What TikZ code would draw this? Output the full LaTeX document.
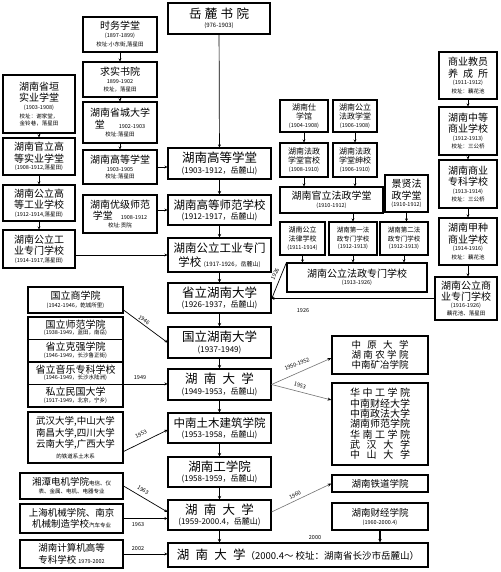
\documentclass[tikz,border=0pt]{standalone}
\usepackage{fontspec}
\setmainfont{Noto Sans CJK SC}
\usetikzlibrary{arrows.meta}
\newcommand\fsA{\fontsize{12.5}{13}\selectfont}
\newcommand\fsAb{\fontsize{11.5}{12.5}\selectfont}
\newcommand\fsB{\fontsize{10}{10.5}\selectfont}
\newcommand\fsBb{\fontsize{9.5}{10}\selectfont}
\newcommand\fsC{\fontsize{8}{9}\selectfont}
\newcommand\fsCc{\fontsize{7}{8}\selectfont}
\newcommand\fsCd{\fontsize{6.5}{7.5}\selectfont}
\newcommand\fsD{\fontsize{6}{7}\selectfont}
\newcommand\fsE{\fontsize{5.5}{6.5}\selectfont}
\newcommand\spread[2]{\makebox[#1][s]{#2}}
\tikzset{
  bx/.style 2 args={draw, line width=1.1pt, fill=white, align=center, inner sep=1pt,
    font=\fontsize{5.5}{5.5}\selectfont, minimum width=#1, minimum height=#2},
  mainarr/.style={line width=1.3pt, -{Stealth[length=3.5pt,width=3.5pt]}},
  thinarr/.style={line width=0.7pt, -{Stealth[length=3pt,width=3pt]}},
  greyarr/.style={line width=0.6pt, draw=black!55, -{Stealth[length=4pt,width=3pt,black]}},
  lbl/.style={font=\fsE, inner sep=0.5pt}
}
\begin{document}
\begin{tikzpicture}[x=1pt,y=-1pt]
\fill[white] (0,0) rectangle (500,572);
\useasboundingbox (0,0) rectangle (500,572);

% ---------- centre column ----------
\node[bx={102pt}{31pt}] (ylsy) at (219,18.5) {\fsA\spread{4.8em}{岳\hfill 麓\hfill 书\hfill 院}\\[1.5pt]\fsD(976-1903)};
\node[bx={103pt}{31pt}] (gdxt) at (219.5,163.5) {\fsA 湖南高等学堂\\[1.5pt]\fsC(1903-1912，岳麓山)};
\node[bx={103pt}{30pt}] (gdsf) at (219.5,210) {\fsAb 湖南高等师范学校\\[1.5pt]\fsC(1912-1917，岳麓山)};
\node[bx={103pt}{34pt}] (gyzm) at (219.5,255) {\fsAb 湖南公立工业专门\\[2pt]\fsAb 学校 {\fsD(1917-1926，岳麓山)}};
\node[bx={103pt}{30pt}] (slhd) at (219.5,298) {\fsA 省立湖南大学\\[1.5pt]\fsC(1926-1937，岳麓山)};
\node[bx={103pt}{31pt}] (glhd) at (219.5,342.5) {\fsA 国立湖南大学\\[1.5pt]\fsC(1937-1949)};
\node[bx={103pt}{31pt}] (hd49) at (219.5,384.5) {\fsA\spread{5.5em}{湖\hfill 南\hfill 大\hfill 学}\\[1.5pt]\fsC(1949-1953，岳麓山)};
\node[bx={103pt}{30pt}] (zntm) at (219.5,428) {\fsAb 中南土木建筑学院\\[1.5pt]\fsC(1953-1958，岳麓山)};
\node[bx={103pt}{30pt}] (hngxy) at (219.5,472) {\fsA 湖南工学院\\[1.5pt]\fsC(1958-1959，岳麓山)};
\node[bx={103pt}{30pt}] (hd59) at (219.5,515) {\fsA\spread{5.5em}{湖\hfill 南\hfill 大\hfill 学}\\[1.5pt]\fsC(1959-2000.4，岳麓山)};
\node[bx={260pt}{24pt}] (final) at (298,555) {\fsA\spread{5.5em}{湖\hfill 南\hfill 大\hfill 学}{\fsBb（2000.4～ 校址：湖南省长沙市岳麓山）}};

% ---------- left column 2 ----------
\node[bx={74pt}{35pt}] (swxt) at (120,34.5) {\fsB 时务学堂\\[2.5pt]\fsE(1897-1899)\\[2.5pt]\fsE 校址:小东街,落星田};
\node[bx={74pt}{35pt}] (qssy) at (120,79.5) {\fsB 求实书院\\[2.5pt]\fsE 1899-1902\\[2.5pt]\fsE 校址，落星田};
\node[bx={74pt}{41pt}] (scdxt) at (120,122.5) {\fsB 湖南省城大学\\[1pt]\fsB 堂\hspace{14pt}{\fsE 1902-1903}\\[2.5pt]\fsE 校址:落星田};
\node[bx={74pt}{34pt}] (lgdxt) at (120,167) {\fsB 湖南高等学堂\\[2.5pt]\fsE 1903-1905\\[2pt]\fsE 校址:落星田};
\node[bx={74pt}{38pt}] (yjsf) at (120,214) {\fsB 湖南优级师范\\[1pt]\fsB 学堂\hspace{8pt}{\fsE 1908-1912}\\[2.5pt]\fsE 校址:贡院};

% ---------- left column 1 ----------
\node[bx={72pt}{58pt}] (sysy) at (39,104) {\fsB 湖南省垣\\[1.5pt]\fsB 实业学堂\\[2pt]\fsE(1903-1908)\\[2pt]\fsE 校址：谢家堂，\\[2pt]\fsE 金铃巷，落星田};
\node[bx={72pt}{37pt}] (gsgd) at (39,156.5) {\fsB 湖南官立高\\[1pt]\fsB 等实业学堂\\[2pt]\fsE(1908-1912,落星田)};
\node[bx={72pt}{36pt}] (gsgy) at (39,203) {\fsB 湖南公立高\\[1pt]\fsB 等工业学校\\[2pt]\fsE(1912-1914,落星田)};
\node[bx={72pt}{38pt}] (gygzm) at (39,249) {\fsB 湖南公立工\\[1pt]\fsB 业专门学校\\[2pt]\fsE(1914-1917,落星田)};

% ---------- law schools ----------
\node[bx={48pt}{32pt}] (sxg) at (304,116) {\fsC 湖南仕\\[1pt]\fsC 学馆\\[2pt]\fsE(1904-1908)};
\node[bx={44pt}{32pt}] (gfxt) at (355,116) {\fsC 湖南公立\\[1pt]\fsC 法政学堂\\[2pt]\fsE(1906-1908)};
\node[bx={48pt}{34pt}] (gx) at (304,160) {\fsC 湖南法政\\[1pt]\fsC 学堂官校\\[2pt]\fsE(1908-1910)};
\node[bx={44pt}{34pt}] (sx) at (355,160) {\fsC 湖南法政\\[1pt]\fsC 学堂绅校\\[2pt]\fsE(1906-1910)};
\node[bx={103pt}{26pt}] (glfz) at (331.5,200) {\fsB 湖南官立法政学堂\\[2pt]\fsE(1910-1912)};
\node[bx={43pt}{37pt}] (jx) at (406.5,193.5) {\fsB 景贤法\\[1pt]\fsB 政学堂\\[2pt]\fsE(1910-1912)};
\node[bx={45pt}{33pt}] (fl) at (302.5,238.5) {\fsCc 湖南公立\\[1.5pt]\fsCc 法律学校\\[2pt]\fsE(1911-1914)};
\node[bx={48pt}{33pt}] (d1) at (353,238.5) {\fsCd 湖南第一法\\[1.5pt]\fsCd 政专门学校\\[2pt]\fsE(1912-1913)};
\node[bx={48pt}{33pt}] (d2) at (404,238.5) {\fsCd 湖南第二法\\[1.5pt]\fsCd 政专门学校\\[2pt]\fsE(1912-1913)};
\node[bx={140pt}{29pt}] (fzzm) at (357,277.5) {\fsB 湖南公立法政专门学校\\[2pt]\fsE(1913-1926)};

% ---------- commerce schools ----------
\node[bx={58pt}{47pt}] (sy) at (468,75.5) {\fsB 商业教员\\[1pt]\fsB\spread{4em}{养\hfill 成\hfill 所}\\[2pt]\fsE(1911-1912)\\[2pt]\fsE 校址：藕花池};
\node[bx={58pt}{48pt}] (zd) at (468,131) {\fsB 湖南中等\\[1pt]\fsB 商业学校\\[2pt]\fsE(1912-1913)\\[2pt]\fsE 校址：三公桥};
\node[bx={58pt}{48pt}] (zk) at (468,184) {\fsB 湖南商业\\[1pt]\fsB 专科学校\\[2pt]\fsE(1913-1914)\\[2pt]\fsE 校址：三公桥};
\node[bx={58pt}{47pt}] (jz) at (468,241.5) {\fsB 湖南甲种\\[1pt]\fsB 商业学校\\[2pt]\fsE(1914-1916)\\[2pt]\fsE 校址：藕花池};
\node[bx={62pt}{43pt}] (syzm) at (466,298.5) {\fsB 湖南公立商\\[1pt]\fsB 业专门学校\\[1.5pt]\fsE(1916-1926)\\[1.5pt]\fsE 藕花池、落星田};

% ---------- lower left ----------
\node[bx={95pt}{26pt}] (gls) at (75.5,300) {\fsB 国立商学院\\[2pt]\fsE(1942-1946，乾城所里)};
\node[bx={95pt}{22.5pt}] (ga) at (75.5,328.25) {\fsB 国立师范学院\\[0.5pt]\fsE(1938-1949，蓝田，南岳)};
\node[bx={95pt}{22.5pt}] (gb) at (75.5,350.75) {\fsB 省立克强学院\\[0.5pt]\fsE(1946-1949，长沙鲁正街)};
\node[bx={95pt}{22.5pt}] (gc) at (75.5,373.25) {\fsB 省立音乐专科学校\\[0.5pt]\fsE(1946-1949，长沙水陆洲)};
\node[bx={95pt}{22.5pt}] (gd) at (75.5,395.75) {\fsB 私立民国大学\\[0.5pt]\fsE(1917-1949，北京，宁乡)};
\node[bx={95pt}{51pt}] (whdx) at (75.5,437.5) {\fsBb 武汉大学,中山大学\\[1pt]\fsBb 南昌大学,四川大学\\[1pt]\fsBb 云南大学,广西大学\\[3pt]\fsE 的铁道系土木系};
\node[bx={103pt}{26pt}] (xtdj) at (71.5,486) {\fsBb 湘潭电机学院{\fsE 电信、仪}\\[2.5pt]\fsE 表、金属、电机、电器专业};
\node[bx={103pt}{29pt}] (shjx) at (71.5,518.5) {\fsBb 上海机械学院、南京\\[1.5pt]\fsBb 机械制造学校{\fsE 汽车专业}};
\node[bx={103pt}{28pt}] (jsj) at (71.5,554) {\fsBb 湖南计算机高等\\[1.5pt]\fsBb 专科学校 {\fsE 1979-2002}};

% ---------- lower right ----------
\node[bx={96pt}{38pt}] (zydx) at (380,355) {\fsBb\spread{6em}{中\hfill 原\hfill 大\hfill 学}\\[0.5pt]\fsBb\spread{6em}{湖\hfill 南\hfill 农\hfill 学\hfill 院}\\[0.5pt]\fsBb 中南矿冶学院};
\node[bx={96pt}{82pt}] (hzgx) at (380,424) {\fsB\spread{6em}{华\hfill 中\hfill 工\hfill 学\hfill 院}\\\fsB 中南财经大学\\\fsB 中南政法大学\\\fsB 湖南师范学院\\\fsB\spread{6em}{华\hfill 南\hfill 工\hfill 学\hfill 院}\\\fsB\spread{6em}{武\hfill 汉\hfill 大\hfill 学}\\\fsB\spread{6em}{中\hfill 山\hfill 大\hfill 学}};
\node[bx={96pt}{17pt}] (tdxy) at (380,483.5) {\fsBb 湖南铁道学院};
\node[bx={96pt}{27pt}] (cjxy) at (380,516.5) {\fsBb 湖南财经学院\\[2.5pt]\fsE(1960-2000.4)};

% ---------- connectors: centre ----------
\draw[thinarr] (ylsy) -- (gdxt);
\draw[mainarr] (gdxt) -- (gdsf);
\draw[mainarr] (gdsf) -- (gyzm);
\draw[mainarr] (gyzm) -- (slhd);
\draw[mainarr] (slhd) -- (glhd);
\draw[mainarr] (glhd) -- (hd49);
\draw[mainarr] (hd49) -- (zntm);
\draw[mainarr] (zntm) -- (hngxy);
\draw[mainarr] (hngxy) -- (hd59);
\draw[mainarr] (hd59.south) -- (hd59.south |- final.north);

% left column 2
\draw[thinarr] (swxt) -- (qssy);
\draw[thinarr] (qssy) -- (scdxt);
\draw[thinarr] (scdxt) -- (lgdxt);
\draw[thinarr] (lgdxt.east) -- (lgdxt.east -| gdxt.west);
\draw[thinarr] (yjsf.east |- gdsf.west) -- (gdsf.west);
% left column 1
\draw[thinarr] (sysy) -- (gsgd);
\draw[thinarr] (gsgd) -- (gsgy);
\draw[thinarr] (gsgy) -- (gygzm);
\draw[thinarr] (gygzm.east |- gyzm.west) -- (gyzm.west);

% law
\draw[thinarr] (sxg) -- (gx);
\draw[thinarr] (gfxt) -- (sx);
\draw[thinarr] (gx.south) -- (gx.south |- glfz.north);
\draw[thinarr] (sx.south) -- (sx.south |- glfz.north);
\draw[thinarr] (d1.north |- glfz.south) -- (d1.north);
\draw[thinarr] (jx.south) -- (jx.south |- d2.north);
\draw[thinarr] (fl.south) -- (fl.south |- fzzm.north);
\draw[thinarr] (d1.south) -- (d1.south |- fzzm.north);
\draw[thinarr] (d2.south) -- (d2.south |- fzzm.north);
\draw[thinarr] (fzzm.north west) -- ([yshift=-1pt]slhd.east);
\node[lbl, rotate=64] (l26a) at (275,274) {1926};

% commerce
\draw[thinarr] (sy) -- (zd);
\draw[thinarr] (zd) -- (zk);
\draw[thinarr] (zk) -- (jz);
\draw[thinarr] (jz.south) -- (jz.south |- syzm.north);
\draw[thinarr] (syzm.west) -- (syzm.west -| slhd.east);
\node[lbl] (l26b) at (303,311) {1926};

% lower left
\draw[thinarr] ([yshift=-10pt]gls.east) -- (glhd.west);
\node[lbl, rotate=-36] (l46) at (144,320) {1946};
\draw[thinarr] (gd.north east) -- (gd.north east -| hd49.west);
\node[lbl] (l49) at (140,378) {1949};
\draw[thinarr] ([yshift=-14pt]whdx.east) -- ([yshift=-2pt]zntm.west);
\node[lbl, rotate=26] (l53a) at (141,434) {1953};
\draw[thinarr] (xtdj.east) -- ([yshift=3pt]hd59.west);
\node[lbl, rotate=-31] (l63a) at (143,490) {1963};
\draw[thinarr] (shjx.east) -- (shjx.east -| hd59.west);
\node[lbl] (l63b) at (138,525) {1963};
\draw[thinarr] (jsj.east) -- (jsj.east -| final.west);
\node[lbl] (l02) at (138,549) {2002};

% lower right
\draw[greyarr] (hd49.east) -- ([yshift=-3pt]zydx.west);
\node[lbl, rotate=22] (l5052) at (297,364) {1950-1952};
\draw[greyarr] (hd49.east) -- ([yshift=24pt]hzgx.west);
\node[lbl, rotate=-16] (l53b) at (300,385.5) {1953};
\draw[greyarr] ([yshift=3pt]hd59.east) -- (tdxy.west);
\node[lbl, rotate=26] (l60) at (295,495) {1960};
\draw[mainarr] (cjxy.south) -- (cjxy.south |- final.north);
\node[lbl] (l00) at (315,538) {2000};
\end{tikzpicture}
\end{document}
